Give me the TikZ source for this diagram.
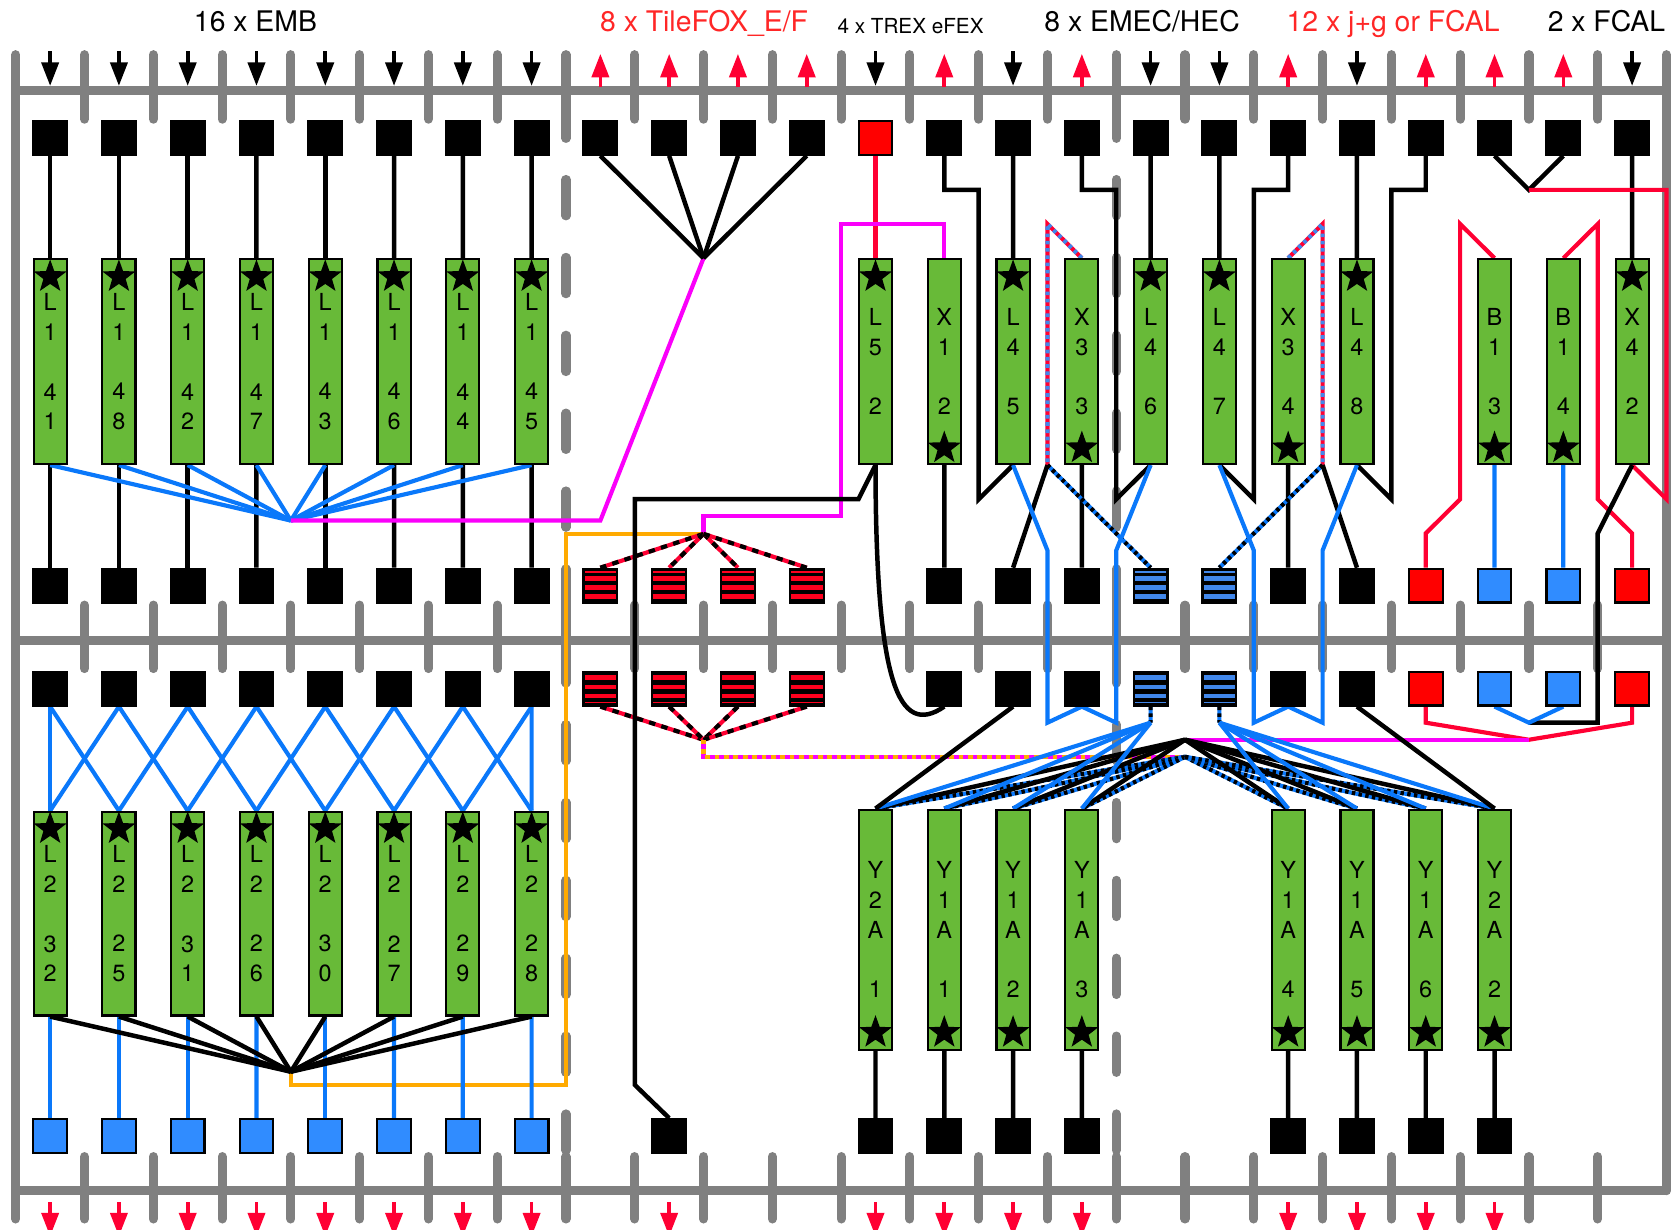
\documentclass[tikz,border=0pt]{standalone}
\usepackage{fontspec}
\setmainfont{TeX Gyre Heros}
\usetikzlibrary{arrows.meta,shapes.geometric}
\pgfdeclarelayer{grid}
\pgfdeclarelayer{lines}
\pgfsetlayers{grid,lines,main}
\definecolor{cGrey}{RGB}{128,128,128}
\definecolor{cGreen}{RGB}{104,186,56}
\definecolor{cBoxBlue}{RGB}{48,140,255}
\definecolor{cBlue}{RGB}{10,120,250}
\definecolor{cStripeBlue}{RGB}{65,135,235}
\definecolor{cRed}{RGB}{255,0,51}
\definecolor{cBoxRed}{RGB}{255,0,0}
\definecolor{cStripeRed}{RGB}{255,0,30}
\definecolor{cMag}{RGB}{250,0,250}
\definecolor{cOrg}{RGB}{255,170,0}
\definecolor{cText}{RGB}{255,38,38}
\tikzset{
  box/.style={rectangle, draw=black, line width=1pt, minimum size=15.8pt, inner sep=0pt},
  kb/.style={box, fill=black},
  rb/.style={box, fill=cBoxRed},
  bb/.style={box, fill=cBoxBlue},
  sbox/.style 2 args={box, fill=black, path picture={\foreach \a/\b in {#2} {\fill[#1] ([yshift=-\a pt]path picture bounding box.north west) rectangle ([yshift=-\b pt]path picture bounding box.north east);}}},
  rsA/.style={sbox={cStripeRed}{1.0/1.8,3.6/5.6,7.6/9.8,11.9/14.3}},
  rsB/.style={sbox={cStripeRed}{1.5/3.9,6.0/8.2,10.2/12.2,14.0/14.8}},
  bsA/.style={sbox={cStripeBlue}{1.0/1.8,3.6/5.6,7.6/9.8,11.9/14.3}},
  bsB/.style={sbox={cStripeBlue}{1.5/3.9,6.0/8.2,10.2/12.2,14.0/14.8}},
  gb/.style={rectangle, draw=black, line width=1pt, fill=cGreen, minimum width=15.5pt, inner sep=0pt, align=center, font=\fontsize{11pt}{14pt}\selectfont},
  gt/.style={gb, minimum height=96pt},
  gl/.style={gb, minimum height=95.5pt},
  gy/.style={gb, minimum height=112.5pt},
  starm/.style={star, star points=5, star point ratio=2.45, fill=black, draw=none, inner sep=0pt, minimum size=16.3pt},
  blk/.style={draw=black, line width=2.1pt},
  blu/.style={draw=cBlue, line width=1.95pt},
  rdl/.style={draw=cRed, line width=1.95pt},
  mgl/.style={draw=cMag, line width=1.95pt},
  orl/.style={draw=cOrg, line width=1.95pt},
  bbd/.style={draw=cBlue, line width=1.95pt, postaction={draw=black, line width=1.95pt, dash pattern=on 1.6pt off 1.6pt}},
  rkd/.style={draw=cRed, line width=1.95pt, postaction={draw=black, line width=1.95pt, dash pattern=on 3pt off 3pt}},
  rbd/.style={draw=cRed, line width=1.95pt, postaction={draw=cStripeBlue, line width=1.95pt, dash pattern=on 1.7pt off 1.7pt}},
  mod/.style={draw=cMag, line width=1.95pt, postaction={draw=cOrg, line width=1.95pt, dash pattern=on 2.2pt off 2.2pt}},
  gbar/.style={draw=cGrey, line width=4.3pt},
  gtick/.style={draw=cGrey, line width=4.3pt, line cap=round},
  gdash/.style={draw=cGrey, line width=4.3pt, line cap=round, dash pattern=on 17pt off 19.5pt},
  inarr/.style={draw=black, line width=1.7pt, -{Triangle[length=11pt,width=8pt]}},
  outarr/.style={draw=cRed, line width=1.7pt, -{Triangle[length=11pt,width=8pt]}},
  lab/.style={anchor=base, inner sep=0pt, font=\fontsize{13.3pt}{16pt}\selectfont},
  labs/.style={anchor=base, inner sep=0pt, font=\fontsize{9.7pt}{12pt}\selectfont},
}
\begin{document}
\begin{tikzpicture}[x=0.5pt,y=-0.5pt]
\useasboundingbox (0,0) rectangle (1568.4,1152.2);

% ---------------- grey frame ----------------
\begin{pgfonlayer}{grid}
\draw[gbar] (14.76,84.7) -- (1562.28,84.7);
\draw[gbar] (14.76,600.6) -- (1562.28,600.6);
\draw[gbar] (14.76,1116.2) -- (1562.28,1116.2);
\draw[gtick] (14.76,51.3) -- (14.76,1142.7);
\draw[gtick] (1562.28,51.3) -- (1562.28,1116.2);
\foreach \i in {0,...,22} {
  \pgfmathsetmacro\dx{79.24+64.48*\i}
  \draw[gtick] (\dx,567.3) -- (\dx,626.7);
  \draw[gtick] (\dx,1084.3) -- (\dx,1142.7);
}
\foreach \i in {0,...,6,8,9,...,14,16,17,...,22} {
  \pgfmathsetmacro\dx{79.24+64.48*\i}
  \draw[gtick] (\dx,51.3) -- (\dx,111.7);
}
\foreach \dx in {530.60,1046.44} {
  \draw[gtick] (\dx,51.3) -- (\dx,129.7);
  \draw[gdash] (\dx,168.3) -- (\dx,1082);
}
\end{pgfonlayer}

% ---------------- arrows ----------------
\foreach \i in {0,...,7,12,14,16,17,19,23} {
  \pgfmathsetmacro\cx{47+64.48*\i}
  \draw[inarr] (\cx,48) -- (\cx,80.5);
}
\foreach \i in {8,...,11,13,15,18,20,21,22} {
  \pgfmathsetmacro\cx{47+64.48*\i}
  \draw[outarr] (\cx,82) -- (\cx,50.5);
}
\foreach \i in {0,...,7,9,12,13,14,15,18,19,20,21} {
  \pgfmathsetmacro\cx{47+64.48*\i}
  \draw[outarr] (\cx,1127) -- (\cx,1159);
}

% ---------------- labels ----------------
\node[lab] (lab1) at (239.5,29.5) {16 x EMB};
\node[lab, text=cText] (lab2) at (660,29.5) {8 x TileFOX\_E/F};
\node[labs] (lab3) at (853.6,31) {4 x TREX eFEX};
\node[lab] (lab4) at (1070.7,29.5) {8 x EMEC/HEC};
\node[lab, text=cText] (lab5) at (1306,29.5) {12 x j+g or FCAL};
\node[lab] (lab6) at (1506,29.5) {2 x FCAL};

% ---------------- boxes ----------------
\foreach \i in {0,...,11,13,14,...,23} {
  \pgfmathsetmacro\cx{47+64.48*\i}
  \node[kb] (r1-\i) at (\cx,129.3) {};
}
\node[rb] (r1-12) at (820.76,129.3) {};

\foreach \i/\s/\t in {0/kb/kb,1/kb/kb,2/kb/kb,3/kb/kb,4/kb/kb,5/kb/kb,6/kb/kb,7/kb/kb,
  8/rsA/rsB,9/rsA/rsB,10/rsA/rsB,11/rsA/rsB,13/kb/kb,14/kb/kb,15/kb/kb,16/bsA/bsB,17/bsA/bsB,
  18/kb/kb,19/kb/kb,20/rb/rb,21/bb/bb,22/bb/bb,23/rb/rb} {
  \pgfmathsetmacro\cx{47+64.48*\i}
  \node[\s] (r2-\i) at (\cx,549) {};
  \node[\t] (r3-\i) at (\cx,645.6) {};
}
\foreach \i/\s in {0/bb,1/bb,2/bb,3/bb,4/bb,5/bb,6/bb,7/bb,9/kb,12/kb,13/kb,14/kb,15/kb,18/kb,19/kb,20/kb,21/kb} {
  \pgfmathsetmacro\cx{47+64.48*\i}
  \node[\s] (r4-\i) at (\cx,1065) {};
}

% ---------------- boards ----------------
\node[gt] (g-0) at (47.00,339) {L\\1\\~\\4\\1};
\node[gt] (g-1) at (111.48,339) {L\\1\\~\\4\\8};
\node[gt] (g-2) at (175.96,339) {L\\1\\~\\4\\2};
\node[gt] (g-3) at (240.44,339) {L\\1\\~\\4\\7};
\node[gt] (g-4) at (304.92,339) {L\\1\\~\\4\\3};
\node[gt] (g-5) at (369.40,339) {L\\1\\~\\4\\6};
\node[gt] (g-6) at (433.88,339) {L\\1\\~\\4\\4};
\node[gt] (g-7) at (498.36,339) {L\\1\\~\\4\\5};
\node[gt] (g-12) at (820.76,339) {L\\5\\~\\2};
\node[gt] (g-13) at (885.24,339) {X\\1\\~\\2};
\node[gt] (g-14) at (949.72,339) {L\\4\\~\\5};
\node[gt] (g-15) at (1014.20,339) {X\\3\\~\\3};
\node[gt] (g-16) at (1078.68,339) {L\\4\\~\\6};
\node[gt] (g-17) at (1143.16,339) {L\\4\\~\\7};
\node[gt] (g-18) at (1207.64,339) {X\\3\\~\\4};
\node[gt] (g-19) at (1272.12,339) {L\\4\\~\\8};
\node[gt] (g-21) at (1401.08,339) {B\\1\\~\\3};
\node[gt] (g-22) at (1465.56,339) {B\\1\\~\\4};
\node[gt] (g-23) at (1530.04,339) {X\\4\\~\\2};

\node[gl] (h-0) at (47.00,856.5) {L\\2\\~\\3\\2};
\node[gl] (h-1) at (111.48,856.5) {L\\2\\~\\2\\5};
\node[gl] (h-2) at (175.96,856.5) {L\\2\\~\\3\\1};
\node[gl] (h-3) at (240.44,856.5) {L\\2\\~\\2\\6};
\node[gl] (h-4) at (304.92,856.5) {L\\2\\~\\3\\0};
\node[gl] (h-5) at (369.40,856.5) {L\\2\\~\\2\\7};
\node[gl] (h-6) at (433.88,856.5) {L\\2\\~\\2\\9};
\node[gl] (h-7) at (498.36,856.5) {L\\2\\~\\2\\8};

\node[gy] (y-12) at (820.76,871.5) {Y\\2\\A\\~\\1};
\node[gy] (y-13) at (885.24,871.5) {Y\\1\\A\\~\\1};
\node[gy] (y-14) at (949.72,871.5) {Y\\1\\A\\~\\2};
\node[gy] (y-15) at (1014.20,871.5) {Y\\1\\A\\~\\3};
\node[gy] (y-18) at (1207.64,871.5) {Y\\1\\A\\~\\4};
\node[gy] (y-19) at (1272.12,871.5) {Y\\1\\A\\~\\5};
\node[gy] (y-20) at (1336.60,871.5) {Y\\1\\A\\~\\6};
\node[gy] (y-21) at (1401.08,871.5) {Y\\2\\A\\~\\2};

% ---------------- stars ----------------
\foreach \i in {0,...,7,12,14,16,17,19,23} {
  \pgfmathsetmacro\cx{47+64.48*\i}
  \node[starm] (st-\i) at (\cx,259.5) {};
}
\foreach \i in {13,15,18,21,22} {
  \pgfmathsetmacro\cx{47+64.48*\i}
  \node[starm] (sb-\i) at (\cx,420) {};
}
\foreach \i in {0,...,7} {
  \pgfmathsetmacro\cx{47+64.48*\i}
  \node[starm] (sh-\i) at (\cx,777) {};
}
\foreach \i in {12,...,15,18,19,20,21} {
  \pgfmathsetmacro\cx{47+64.48*\i}
  \node[starm] (sy-\i) at (\cx,968) {};
}

% ---------------- connectors ----------------
\coordinate (hubE) at (272.68,488);
\coordinate (hubT) at (659.56,242);
\coordinate (hubO) at (659.56,500.5);
\coordinate (hubL) at (659.56,693.5);
\coordinate (hubB) at (272.68,1004.7);
\coordinate (hubK) at (1110.92,693.5);
\coordinate (hubKB) at (1110.92,709.5);
\coordinate (hubV) at (1433.32,178);
\coordinate (jA) at (981.96,436);
\coordinate (jB) at (1239.88,436);
\coordinate (sA) at (1078.68,677.5);
\coordinate (sB) at (1143.16,677.5);
\coordinate (jR) at (1433.32,677.5);

\begin{pgfonlayer}{lines}
% EMB top
\foreach \i in {0,...,7} {
  \draw[blk] (r1-\i.south) -- (g-\i.north);
  \draw[blk] (g-\i.south) -- (r2-\i.north);
}
\foreach \i in {0,...,7} \draw[blu] (g-\i.south) -- (hubE);
\draw[mgl] (hubE) -- (562.84,488) -- (hubT);
\foreach \i in {8,...,11} \draw[blk] (r1-\i.south) -- (hubT);
% TileFOX / centre
\draw[rdl] (r1-12.south) -- (g-12.north);
\draw[orl] (hubO) -- (530.6,500.5) -- (530.6,1017) -- (272.68,1017) -- (hubB);
\draw[mgl] (hubO) -- (659.56,483.5) -- (788.52,483.5) -- (788.52,210) -- (885.24,210) -- (g-13.north);
\foreach \i in {8,...,11} {
  \draw[rkd] (hubO) -- (r2-\i.north);
  \draw[rkd] (r3-\i.south) -- (hubL);
}
\draw[mod] (hubL) -- (659.56,709.5) -- (hubKB);
\draw[blk] (g-12.south) -- (804.8,468) -- (595.08,468) -- (595.08,1017) -- (r4-9.north);
\draw[blk] (g-12.south) .. controls (821,640) and (842,692) .. (r3-13.south);
% top right
\draw[blk] (g-13.south) -- (r2-13.north);
\draw[blk] (r1-13.south) |- (917.48,178) -- (917.48,468) -- (g-14.south);
\draw[blk] (r1-14.south) -- (g-14.north);
\draw[blk] (r1-15.south) |- (1046.44,178) -- (1046.44,468) -- (g-16.south);
\draw[blk] (r1-16.south) -- (g-16.north);
\draw[blk] (r1-17.south) -- (g-17.north);
\draw[blk] (r1-18.south) |- (1175.4,178) -- (1175.4,468) -- (g-17.south);
\draw[blk] (r1-19.south) -- (g-19.north);
\draw[blk] (r1-20.south) |- (1304.36,178) -- (1304.36,468) -- (g-19.south);
\draw[blk] (r1-21.south) -- (hubV) -- (r1-22.south);
\draw[blk] (r1-23.south) -- (g-23.north);
\draw[rdl] (hubV) -- (1562.28,178) -- (1562.28,468) -- (g-23.south);
\draw[rdl] (g-21.north) -- (1368.84,210) -- (1368.84,468) -- (1336.6,500) -- (r2-20.north);
\draw[rdl] (g-22.north) -- (1497.8,210) -- (1497.8,468) -- (1530.04,500) -- (r2-23.north);
\draw[blu] (g-21.south) -- (r2-21.north);
\draw[blu] (g-22.south) -- (r2-22.north);
\draw[blk] (g-23.south) -- (1497.8,500) -- (1497.8,677.5) -- (jR);
\draw[blu] (r3-21.south) -- (jR) -- (r3-22.south);
\draw[rdl] (r3-20.south) -- (1336.6,677.5) -- (1433.32,693.5) -- (1530.04,677.5) -- (r3-23.south);
\draw[mgl] (hubK) -- (1433.32,693.5);
\draw[blk] (g-15.south) -- (r2-15.north);
\draw[blk] (g-18.south) -- (r2-18.north);
\draw[rbd] (g-15.north) -- (981.96,210) -- (jA);
\draw[rbd] (g-18.north) -- (1239.88,210) -- (jB);
\draw[bbd] (jA) -- (r2-16.north);
\draw[bbd] (jB) -- (r2-17.north);
\draw[blk] (jA) -- (r2-14.north);
\draw[blk] (jB) -- (r2-19.north);
\draw[blu] (g-14.south) -- (981.96,516) -- (981.96,677.5) -- (r3-15.south) -- (1046.44,677.5) -- (1046.44,516) -- (g-16.south);
\draw[blu] (g-17.south) -- (1175.4,516) -- (1175.4,677.5) -- (r3-18.south) -- (1239.88,677.5) -- (1239.88,516) -- (g-19.south);
% Y region
\draw[bbd] (r3-16.south) -- (sA);
\draw[bbd] (r3-17.south) -- (sB);
\foreach \i in {12,...,15,18,19,20,21} \draw[bbd] (hubKB) -- (y-\i.north);
\foreach \i in {12,...,15,18,19,20,21} \draw[blk] (hubK) -- (y-\i.north);
\foreach \i in {12,...,15} \draw[blu] (sA) -- (y-\i.north);
\foreach \i in {18,...,21} \draw[blu] (sB) -- (y-\i.north);
\draw[blk] (r3-14.south) -- (y-12.north);
\draw[blk] (r3-19.south) -- (y-21.north);
\foreach \i in {12,...,15,18,19,20,21} \draw[blk] (y-\i.south) -- (r4-\i.north);
% bottom left
\foreach \i/\l/\r in {0/0/1,1/0/2,2/1/3,3/2/4,4/3/5,5/4/6,6/5/7,7/6/7} {
  \draw[blu] (r3-\i.south) -- (h-\l.north);
  \draw[blu] (r3-\i.south) -- (h-\r.north);
}
\foreach \i in {0,...,7} \draw[blu] (h-\i.south) -- (r4-\i.north);
\foreach \i in {0,...,7} \draw[blk] (h-\i.south) -- (hubB);
\end{pgfonlayer}
\end{tikzpicture}
\end{document}
